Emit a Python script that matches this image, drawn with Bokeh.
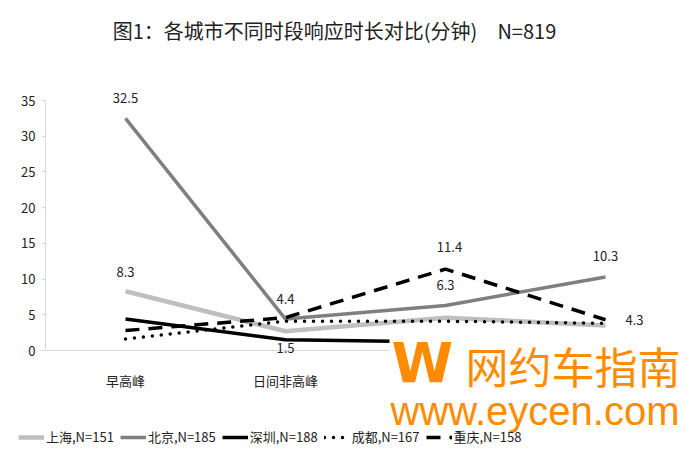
from bokeh.plotting import figure
from bokeh.models import Range1d, Label, Legend, LegendItem, FixedTicker, BoxAnnotation
from bokeh.embed import file_html
from bokeh.resources import INLINE

# ---- data ----
categories = ["早高峰", "日间非高峰", "晚高峰", "夜间"]
shanghai = [8.3, 2.7, 4.6, 3.5]
beijing = [32.5, 4.4, 6.3, 10.3]
shenzhen = [4.4, 1.5, 1.2, 1.0]
chengdu = [1.6, 4.1, 4.1, 3.8]
chongqing = [2.8, 4.6, 11.4, 4.3]
series_names = ["上海,N=151", "北京,N=185", "深圳,N=188", "成都,N=167", "重庆,N=158"]
y_ticks = [0, 5, 10, 15, 20, 25, 30, 35]
title_text = "图1：各城市不同时段响应时长对比(分钟)　N=819"
# (series index, category index) of the values that carry a data label
labelled_points = [(1, 0), (0, 0), (1, 1), (2, 1), (4, 2), (1, 2), (1, 3), (4, 3)]

series = [shanghai, beijing, shenzhen, chengdu, chongqing]
styles = [
    dict(line_color="#BFBFBF", line_width=4.5),
    dict(line_color="#7F7F7F", line_width=3.5),
    dict(line_color="#000000", line_width=3.5),
    dict(line_color="#000000", line_width=3.5, line_dash="0 9", line_cap="round"),
    dict(line_color="#000000", line_width=3.5, line_dash="14 9"),
]
# pixel offsets of data labels (style)
label_offsets = {(1, 0): (0, 20), (0, 0): (0, 19), (1, 1): (0, 20), (2, 1): (0, -8),
                 (4, 2): (4, 22), (1, 2): (0, 21), (1, 3): (0, 21), (4, 3): (20, 0)}

FONT = "Noto Sans CJK SC"
W, H = 684, 451
# layout of the drawing area in canvas pixels
X0_PX, PX_PER_CAT = 125.0, 160.0      # first category centre, category spacing
Y0_PX, PX_PER_UNIT = 350.0, 250.0 / 35  # y=0 line, pixels per minute
AXIS_LEFT = -0.5

p = figure(width=W, height=H, output_backend="svg", toolbar_location=None,
           x_range=Range1d(-X0_PX / PX_PER_CAT, (W - X0_PX) / PX_PER_CAT),
           y_range=Range1d(-(H - Y0_PX) / PX_PER_UNIT, Y0_PX / PX_PER_UNIT),
           min_border=0)
p.outline_line_color = None
p.grid.visible = False
p.background_fill_color = "white"
p.border_fill_color = "white"

def px_to_data(fx, fy):
    return (fx - X0_PX) / PX_PER_CAT, (Y0_PX - fy) / PX_PER_UNIT

xs = list(range(len(categories)))
renderers = []
for vals, st in zip(series, styles):
    r = p.line(xs, vals, **st)
    renderers.append(r)

# axes (fixed inside the drawing area)
yax = p.yaxis[0]
yax.fixed_location = AXIS_LEFT
yax.bounds = (0, 35)
yax.ticker = FixedTicker(ticks=y_ticks)
yax.axis_line_color = "#D9D9D9"
yax.major_tick_line_color = "#D9D9D9"
yax.major_tick_out = 4
yax.major_tick_in = 0
yax.minor_tick_line_color = None
yax.major_label_text_font = FONT
yax.major_label_text_font_size = "13px"
yax.major_label_text_color = "#222222"
yax.major_label_standoff = 6

xax = p.xaxis[0]
xax.fixed_location = 0
xax.bounds = (AXIS_LEFT, p.x_range.end)
xax.ticker = FixedTicker(ticks=xs)
xax.major_label_overrides = {i: c for i, c in enumerate(categories)}
xax.axis_line_color = "#D9D9D9"
xax.major_tick_line_color = None
xax.minor_tick_line_color = None
xax.major_label_text_font = FONT
xax.major_label_text_font_size = "13px"
xax.major_label_text_color = "#222222"
xax.major_label_standoff = 14

# legend
items = [LegendItem(label=n, renderers=[r]) for n, r in zip(series_names, renderers)]
legend = Legend(items=items, orientation="horizontal", location=(18, 5),
                label_text_font=FONT, label_text_font_size="13px",
                label_text_color="#222222", glyph_width=26, glyph_height=16,
                label_standoff=2, spacing=6, padding=2, margin=0,
                border_line_color=None, background_fill_alpha=0)
p.add_layout(legend)

# data labels
for (si, ci) in labelled_points:
    dx, dy = label_offsets[(si, ci)]
    v = series[si][ci]
    p.add_layout(Label(x=ci, y=v, text=f"{v:.1f}", x_offset=dx, y_offset=dy,
                       text_align="center" if dx < 10 else "left",
                       text_baseline="middle", text_font=FONT,
                       text_font_size="13px", text_color="#222222"))

# title
tx, ty = px_to_data(334, 30)
p.add_layout(Label(x=tx, y=ty, text=title_text, text_align="center",
                   text_baseline="middle", text_font=FONT,
                   text_font_size="20px", text_color="#222222"))

# watermark overlay as in the reference image (white panel + orange text)
ORANGE = "#FF8C00"
bl, bt = px_to_data(389, 337)
br, bb = px_to_data(W, 428)
p.add_layout(BoxAnnotation(left=bl, right=br, top=bt, bottom=bb, fill_color="white",
                           fill_alpha=1, line_color=None, level="overlay"))
wx, wy = px_to_data(422, 362)
p.add_layout(Label(x=wx, y=wy, text="W", text_align="center", text_baseline="middle",
                   text_font="DejaVu Sans", text_font_style="bold",
                   text_font_size="56px", text_color=ORANGE, level="overlay"))
cx, cy = px_to_data(465, 364)
p.add_layout(Label(x=cx, y=cy, text="网约车指南", text_align="left", text_baseline="middle",
                   text_font=FONT, text_font_size="43px", text_color=ORANGE,
                   level="overlay"))
ux, uy = px_to_data(390, 410)
p.add_layout(Label(x=ux, y=uy, text="www.eycen.com", text_align="left",
                   text_baseline="middle", text_font="Liberation Sans",
                   text_font_size="40px", text_color=ORANGE, level="overlay"))

open("out.html", "w").write(file_html(p, INLINE))
